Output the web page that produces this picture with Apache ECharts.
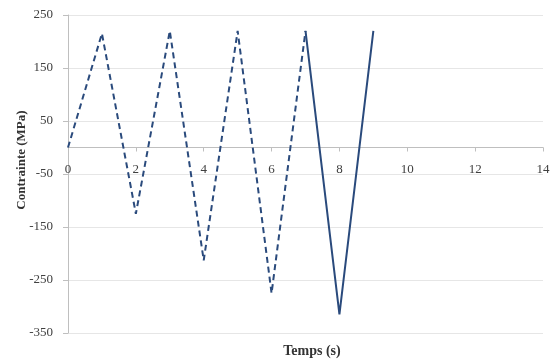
<!DOCTYPE html>
<html>
<head>
<meta charset="utf-8">
<script src="https://cdn.jsdelivr.net/npm/echarts@6/dist/echarts.min.js"></script>
<style>html,body{margin:0;padding:0;background:#fff}#c{width:556px;height:364px}</style>
</head>
<body>
<div id="c"></div>
<script>
const dashedTimes = [0, 1, 2, 3, 4, 5, 6, 7];
const dashedValues = [0, 215, -125, 220, -213, 220, -275, 220];
const solidTimes = [7, 8, 9];
const solidValues = [220, -315, 220];
const xTicks = [0, 2, 4, 6, 8, 10, 12, 14];
const yTicks = [-350, -250, -150, -50, 50, 150, 250];
const xTitle = 'Temps (s)';
const yTitle = 'Contrainte (MPa)';

const chart = echarts.init(document.getElementById('c'), null, {renderer: 'canvas'});
const serif = '"Liberation Serif", "DejaVu Serif", serif';
const col = '#2a4a7c';
const plotTop = 15, plotBottom = 31, plotH = 364 - plotTop - plotBottom;
const zeroOffset = plotH * (0 - yTicks[0]) / (yTicks[yTicks.length - 1] - yTicks[0]);
chart.setOption({
  animation: false,
  backgroundColor: '#fff',
  grid: {left: 68, right: 13, top: plotTop, bottom: plotBottom, containLabel: false, outerBoundsMode: 'none'},
  graphic: [
    {
      type: 'text', x: 312, y: 351,
      style: {text: xTitle, font: 'bold 14px ' + serif, fill: '#333', align: 'center', verticalAlign: 'middle'}
    },
    {
      type: 'text', x: 22, y: 160, rotation: Math.PI / 2,
      style: {text: yTitle, font: 'bold 13px ' + serif, fill: '#333', align: 'center', verticalAlign: 'middle'}
    }
  ],
  xAxis: {
    type: 'value', min: xTicks[0], max: xTicks[xTicks.length - 1], interval: 2,
    position: 'bottom', offset: -zeroOffset,
    axisLine: {onZero: false, lineStyle: {color: '#bfbfbf', width: 1}},
    axisTick: {show: true, length: 4, lineStyle: {color: '#bfbfbf'}},
    axisLabel: {fontFamily: serif, fontSize: 13, color: '#404040', margin: 16},
    splitLine: {show: false}
  },
  yAxis: {
    type: 'value', min: yTicks[0], max: yTicks[yTicks.length - 1], interval: 100,
    axisLine: {show: true, lineStyle: {color: '#bfbfbf', width: 1}},
    axisTick: {show: true, length: 5, lineStyle: {color: '#bfbfbf'}},
    axisLabel: {fontFamily: serif, fontSize: 13, color: '#404040', margin: 15},
    splitLine: {show: true, lineStyle: {color: '#e6e6e6', width: 1}}
  },
  series: [
    {
      type: 'line', symbol: 'none',
      data: dashedTimes.map((t, i) => [t, dashedValues[i]]),
      lineStyle: {color: col, width: 2, type: [6, 4]}
    },
    {
      type: 'line', symbol: 'none',
      data: solidTimes.map((t, i) => [t, solidValues[i]]),
      lineStyle: {color: col, width: 2, type: 'solid'}
    }
  ]
});
</script>
</body>
</html>
